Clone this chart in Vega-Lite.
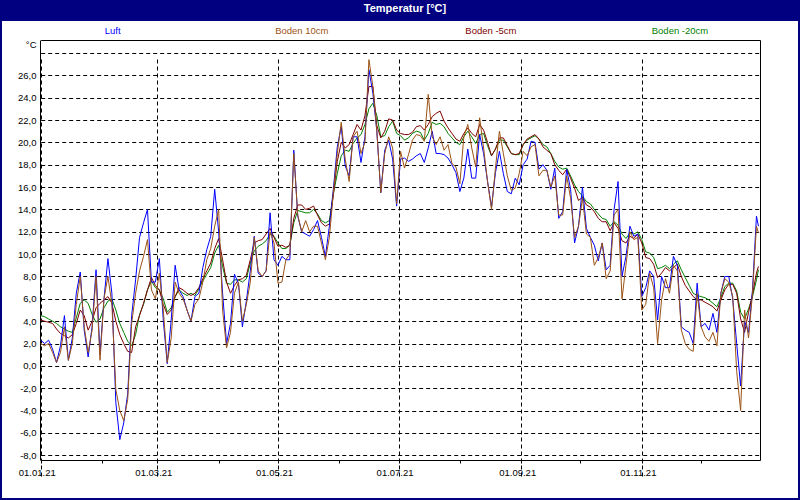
{
  "$schema": "https://vega.github.io/schema/vega-lite/v6.json",
  "background": "#000080",
  "padding": {"left": 0, "top": 0, "right": 0, "bottom": 2},
  "autosize": {"type": "pad"},
  "bounds": "flush",
  "center": true,
  "spacing": 0,
  "config": {
    "view": {"stroke": null},
    "font": "Liberation Sans"
  },
  "vconcat": [
    {
      "width": 800,
      "height": 21,
      "view": {"fill": "#000080", "stroke": null},
      "data": {"values": [{"t": "Temperatur [°C]"}]},
      "mark": {"type": "text", "color": "white", "font": "Liberation Sans", "fontWeight": "bold", "fontSize": 11, "baseline": "middle", "dx": 5, "dy": -2},
      "encoding": {"text": {"field": "t", "type": "nominal"}}
    },
    {
      "width": 796,
      "height": 477,
      "view": {"fill": "white", "stroke": null},
      "resolve": {"scale": {"x": "independent"}, "axis": {"x": "independent", "y": "independent"}},
      "layer": [
        {
          "data": {"values": [
{"d":"2021-01-01","L":2.3,"A":2.0,"B":4.1,"C":4.5},
{"d":"2021-01-03","L":2.0,"A":1.8,"B":4.0,"C":4.4},
{"d":"2021-01-05","L":2.3,"A":2.0,"B":3.9,"C":4.2},
{"d":"2021-01-07","L":1.5,"A":1.2,"B":3.8,"C":4.0},
{"d":"2021-01-09","L":0.3,"A":0.3,"B":3.3,"C":3.8},
{"d":"2021-01-11","L":1.8,"A":1.2,"B":2.9,"C":3.5},
{"d":"2021-01-13","L":4.5,"A":3.5,"B":2.7,"C":3.3},
{"d":"2021-01-15","L":0.5,"A":0.5,"B":2.5,"C":3.1},
{"d":"2021-01-17","L":2.5,"A":2.0,"B":2.8,"C":3.0},
{"d":"2021-01-19","L":6.5,"A":5.5,"B":3.8,"C":4.3},
{"d":"2021-01-21","L":8.4,"A":8.0,"B":5.0,"C":5.6},
{"d":"2021-01-23","L":3.2,"A":3.5,"B":4.5,"C":5.9},
{"d":"2021-01-25","L":0.8,"A":1.2,"B":3.2,"C":5.6},
{"d":"2021-01-27","L":3.5,"A":3.2,"B":4.0,"C":4.6},
{"d":"2021-01-29","L":8.6,"A":8.0,"B":5.2,"C":3.9},
{"d":"2021-01-31","L":1.0,"A":0.5,"B":5.6,"C":4.2},
{"d":"2021-02-02","L":6.0,"A":6.0,"B":5.9,"C":5.2},
{"d":"2021-02-04","L":9.6,"A":8.0,"B":6.2,"C":5.8},
{"d":"2021-02-06","L":6.5,"A":5.5,"B":5.6,"C":6.0},
{"d":"2021-02-08","L":-3.3,"A":-2.1,"B":4.0,"C":5.0},
{"d":"2021-02-10","L":-6.6,"A":-4.0,"B":2.8,"C":3.8},
{"d":"2021-02-12","L":-5.1,"A":-4.9,"B":2.0,"C":3.0},
{"d":"2021-02-14","L":-2.5,"A":-3.0,"B":1.3,"C":2.2},
{"d":"2021-02-16","L":4.5,"A":3.8,"B":1.2,"C":1.8},
{"d":"2021-02-18","L":7.7,"A":6.5,"B":3.5,"C":2.8},
{"d":"2021-02-20","L":11.5,"A":8.5,"B":4.5,"C":4.6},
{"d":"2021-02-22","L":12.8,"A":9.8,"B":5.6,"C":5.5},
{"d":"2021-02-24","L":14.0,"A":11.3,"B":6.8,"C":6.8},
{"d":"2021-02-26","L":7.5,"A":6.8,"B":7.9,"C":7.6},
{"d":"2021-02-28","L":7.5,"A":6.0,"B":7.2,"C":7.0},
{"d":"2021-03-02","L":9.6,"A":8.3,"B":6.8,"C":6.8},
{"d":"2021-03-04","L":4.1,"A":5.0,"B":5.5,"C":6.0},
{"d":"2021-03-06","L":0.2,"A":0.3,"B":4.6,"C":4.8},
{"d":"2021-03-08","L":4.1,"A":2.5,"B":5.0,"C":5.2},
{"d":"2021-03-10","L":9.0,"A":7.5,"B":6.2,"C":6.2},
{"d":"2021-03-12","L":6.8,"A":6.5,"B":7.0,"C":6.8},
{"d":"2021-03-14","L":6.2,"A":6.0,"B":6.8,"C":6.5},
{"d":"2021-03-16","L":5.0,"A":5.0,"B":6.5,"C":6.3},
{"d":"2021-03-18","L":4.0,"A":4.0,"B":6.3,"C":6.5},
{"d":"2021-03-20","L":6.2,"A":5.5,"B":6.5,"C":6.3},
{"d":"2021-03-22","L":6.5,"A":6.0,"B":7.0,"C":6.9},
{"d":"2021-03-24","L":8.8,"A":7.5,"B":7.8,"C":7.6},
{"d":"2021-03-26","L":10.4,"A":9.5,"B":8.5,"C":8.2},
{"d":"2021-03-28","L":11.6,"A":10.5,"B":9.2,"C":8.8},
{"d":"2021-03-30","L":15.8,"A":12.5,"B":10.5,"C":10.1},
{"d":"2021-04-01","L":12.0,"A":14.0,"B":11.4,"C":10.8},
{"d":"2021-04-03","L":6.5,"A":5.0,"B":9.5,"C":8.9},
{"d":"2021-04-05","L":2.0,"A":1.6,"B":7.5,"C":7.4},
{"d":"2021-04-07","L":3.8,"A":3.0,"B":6.5,"C":7.3},
{"d":"2021-04-09","L":8.2,"A":6.5,"B":7.2,"C":7.7},
{"d":"2021-04-11","L":7.4,"A":7.5,"B":7.7,"C":7.7},
{"d":"2021-04-13","L":3.5,"A":4.0,"B":7.8,"C":7.5},
{"d":"2021-04-15","L":5.8,"A":5.5,"B":8.1,"C":7.8},
{"d":"2021-04-17","L":8.5,"A":7.5,"B":9.5,"C":9.2},
{"d":"2021-04-19","L":11.6,"A":11.5,"B":11.0,"C":10.3},
{"d":"2021-04-21","L":8.3,"A":8.5,"B":11.2,"C":10.7},
{"d":"2021-04-23","L":8.0,"A":8.0,"B":11.3,"C":10.9},
{"d":"2021-04-25","L":8.5,"A":8.5,"B":11.8,"C":11.2},
{"d":"2021-04-27","L":13.7,"A":12.0,"B":12.3,"C":11.8},
{"d":"2021-04-29","L":9.5,"A":11.0,"B":11.5,"C":11.6},
{"d":"2021-05-01","L":9.0,"A":7.4,"B":10.7,"C":11.0},
{"d":"2021-05-03","L":9.8,"A":7.5,"B":10.8,"C":10.5},
{"d":"2021-05-05","L":9.5,"A":9.5,"B":10.6,"C":10.5},
{"d":"2021-05-07","L":9.5,"A":10.0,"B":10.8,"C":10.8},
{"d":"2021-05-09","L":19.3,"A":19.0,"B":13.2,"C":12.8},
{"d":"2021-05-11","L":13.4,"A":13.5,"B":14.4,"C":13.9},
{"d":"2021-05-13","L":12.0,"A":12.0,"B":14.4,"C":13.8},
{"d":"2021-05-15","L":11.8,"A":13.0,"B":14.0,"C":13.7},
{"d":"2021-05-17","L":11.6,"A":12.0,"B":14.1,"C":13.7},
{"d":"2021-05-19","L":12.2,"A":12.5,"B":14.3,"C":14.0},
{"d":"2021-05-21","L":13.0,"A":12.5,"B":13.5,"C":13.6},
{"d":"2021-05-23","L":11.5,"A":11.0,"B":12.8,"C":13.0},
{"d":"2021-05-25","L":9.8,"A":9.5,"B":12.5,"C":12.8},
{"d":"2021-05-27","L":12.5,"A":11.5,"B":12.7,"C":13.0},
{"d":"2021-05-29","L":15.8,"A":15.5,"B":15.3,"C":15.4},
{"d":"2021-05-31","L":19.6,"A":19.0,"B":18.3,"C":17.2},
{"d":"2021-06-02","L":21.4,"A":21.8,"B":20.0,"C":18.8},
{"d":"2021-06-04","L":17.9,"A":18.5,"B":19.5,"C":19.3},
{"d":"2021-06-06","L":17.0,"A":16.5,"B":19.8,"C":19.2},
{"d":"2021-06-08","L":20.5,"A":20.5,"B":20.7,"C":19.9},
{"d":"2021-06-10","L":20.5,"A":21.0,"B":21.6,"C":20.4},
{"d":"2021-06-12","L":18.2,"A":19.0,"B":21.1,"C":20.7},
{"d":"2021-06-14","L":20.5,"A":20.0,"B":22.4,"C":21.6},
{"d":"2021-06-16","L":26.5,"A":27.4,"B":25.0,"C":23.0},
{"d":"2021-06-18","L":24.4,"A":25.0,"B":25.0,"C":23.5},
{"d":"2021-06-20","L":21.0,"A":21.0,"B":21.5,"C":22.4},
{"d":"2021-06-22","L":15.5,"A":15.5,"B":20.4,"C":20.5},
{"d":"2021-06-24","L":19.3,"A":19.0,"B":21.0,"C":20.6},
{"d":"2021-06-26","L":20.2,"A":20.5,"B":22.1,"C":21.4},
{"d":"2021-06-28","L":18.5,"A":19.5,"B":22.0,"C":21.9},
{"d":"2021-06-30","L":14.3,"A":14.5,"B":21.1,"C":20.8},
{"d":"2021-07-02","L":18.5,"A":19.2,"B":20.8,"C":20.6},
{"d":"2021-07-04","L":18.6,"A":17.7,"B":20.7,"C":20.2},
{"d":"2021-07-06","L":18.3,"A":18.9,"B":20.7,"C":20.4},
{"d":"2021-07-08","L":18.5,"A":20.2,"B":20.9,"C":20.8},
{"d":"2021-07-10","L":18.8,"A":20.7,"B":21.4,"C":21.0},
{"d":"2021-07-12","L":19.0,"A":20.6,"B":21.5,"C":20.9},
{"d":"2021-07-14","L":18.2,"A":20.1,"B":21.1,"C":20.2},
{"d":"2021-07-16","L":19.5,"A":24.3,"B":21.6,"C":20.8},
{"d":"2021-07-18","L":21.0,"A":20.5,"B":22.3,"C":21.8},
{"d":"2021-07-20","L":19.0,"A":19.8,"B":22.6,"C":21.6},
{"d":"2021-07-22","L":19.0,"A":20.5,"B":22.8,"C":21.7},
{"d":"2021-07-24","L":18.9,"A":19.3,"B":21.9,"C":21.4},
{"d":"2021-07-26","L":18.6,"A":19.8,"B":21.3,"C":20.8},
{"d":"2021-07-28","L":18.0,"A":18.1,"B":20.8,"C":20.4},
{"d":"2021-07-30","L":17.3,"A":17.8,"B":20.3,"C":20.0},
{"d":"2021-08-01","L":15.6,"A":16.3,"B":20.1,"C":19.8},
{"d":"2021-08-03","L":16.8,"A":20.5,"B":20.8,"C":20.5},
{"d":"2021-08-05","L":19.4,"A":21.6,"B":21.3,"C":21.0},
{"d":"2021-08-07","L":16.8,"A":19.5,"B":20.8,"C":20.5},
{"d":"2021-08-09","L":16.8,"A":17.8,"B":20.5,"C":19.9},
{"d":"2021-08-11","L":20.7,"A":22.2,"B":21.6,"C":20.7},
{"d":"2021-08-13","L":19.0,"A":19.5,"B":21.1,"C":20.8},
{"d":"2021-08-15","L":16.5,"A":16.5,"B":20.0,"C":19.7},
{"d":"2021-08-17","L":14.2,"A":14.0,"B":18.8,"C":18.8},
{"d":"2021-08-19","L":17.3,"A":17.7,"B":19.4,"C":19.4},
{"d":"2021-08-21","L":19.2,"A":21.0,"B":20.4,"C":20.2},
{"d":"2021-08-23","L":17.2,"A":19.0,"B":20.4,"C":20.2},
{"d":"2021-08-25","L":15.6,"A":17.0,"B":19.7,"C":19.6},
{"d":"2021-08-27","L":15.4,"A":15.7,"B":19.0,"C":19.0},
{"d":"2021-08-29","L":16.8,"A":15.9,"B":18.9,"C":18.9},
{"d":"2021-08-31","L":16.2,"A":17.2,"B":19.0,"C":18.9},
{"d":"2021-09-02","L":18.0,"A":19.2,"B":19.8,"C":19.8},
{"d":"2021-09-04","L":18.5,"A":18.8,"B":20.3,"C":20.2},
{"d":"2021-09-06","L":20.1,"A":19.6,"B":20.5,"C":20.4},
{"d":"2021-09-08","L":20.0,"A":19.8,"B":20.7,"C":20.6},
{"d":"2021-09-10","L":17.6,"A":17.0,"B":20.3,"C":20.3},
{"d":"2021-09-12","L":18.0,"A":17.5,"B":19.6,"C":19.8},
{"d":"2021-09-14","L":17.5,"A":17.5,"B":19.3,"C":19.6},
{"d":"2021-09-16","L":15.8,"A":16.0,"B":19.0,"C":19.0},
{"d":"2021-09-18","L":17.7,"A":17.0,"B":18.0,"C":18.3},
{"d":"2021-09-20","L":13.2,"A":13.5,"B":17.5,"C":17.8},
{"d":"2021-09-22","L":13.8,"A":13.5,"B":17.1,"C":17.6},
{"d":"2021-09-24","L":17.6,"A":17.0,"B":17.6,"C":17.7},
{"d":"2021-09-26","L":15.8,"A":15.0,"B":16.8,"C":17.0},
{"d":"2021-09-28","L":11.0,"A":11.5,"B":15.9,"C":16.2},
{"d":"2021-09-30","L":12.5,"A":12.5,"B":14.8,"C":15.6},
{"d":"2021-10-02","L":16.0,"A":15.0,"B":15.1,"C":15.2},
{"d":"2021-10-04","L":12.3,"A":11.8,"B":14.4,"C":14.7},
{"d":"2021-10-06","L":11.5,"A":11.5,"B":14.2,"C":14.5},
{"d":"2021-10-08","L":10.8,"A":9.0,"B":13.8,"C":14.0},
{"d":"2021-10-10","L":9.4,"A":9.7,"B":13.2,"C":13.6},
{"d":"2021-10-12","L":11.0,"A":11.0,"B":12.9,"C":13.2},
{"d":"2021-10-14","L":8.6,"A":7.8,"B":12.9,"C":13.1},
{"d":"2021-10-16","L":9.0,"A":8.5,"B":12.1,"C":12.5},
{"d":"2021-10-18","L":14.0,"A":13.5,"B":12.8,"C":12.9},
{"d":"2021-10-20","L":16.5,"A":14.0,"B":12.3,"C":12.6},
{"d":"2021-10-22","L":8.0,"A":6.0,"B":11.2,"C":11.8},
{"d":"2021-10-24","L":9.8,"A":9.0,"B":11.0,"C":11.4},
{"d":"2021-10-26","L":12.5,"A":12.0,"B":11.6,"C":11.9},
{"d":"2021-10-28","L":11.6,"A":11.3,"B":11.4,"C":11.8},
{"d":"2021-10-30","L":11.8,"A":11.5,"B":11.8,"C":12.0},
{"d":"2021-11-01","L":6.2,"A":5.0,"B":11.0,"C":11.3},
{"d":"2021-11-03","L":7.0,"A":5.5,"B":9.7,"C":10.2},
{"d":"2021-11-05","L":8.5,"A":8.3,"B":9.6,"C":10.1},
{"d":"2021-11-07","L":8.0,"A":7.0,"B":9.1,"C":9.7},
{"d":"2021-11-09","L":4.1,"A":2.0,"B":7.9,"C":8.7},
{"d":"2021-11-11","L":8.0,"A":5.9,"B":8.3,"C":8.8},
{"d":"2021-11-13","L":7.0,"A":7.8,"B":8.8,"C":9.0},
{"d":"2021-11-15","L":7.0,"A":6.5,"B":8.5,"C":8.7},
{"d":"2021-11-17","L":9.8,"A":9.0,"B":8.8,"C":9.1},
{"d":"2021-11-19","L":9.0,"A":8.5,"B":9.1,"C":9.4},
{"d":"2021-11-21","L":3.5,"A":3.2,"B":8.0,"C":8.6},
{"d":"2021-11-23","L":3.2,"A":2.0,"B":7.2,"C":7.9},
{"d":"2021-11-25","L":3.0,"A":1.5,"B":6.7,"C":7.2},
{"d":"2021-11-27","L":2.0,"A":1.3,"B":6.2,"C":6.5},
{"d":"2021-11-29","L":7.4,"A":6.5,"B":5.9,"C":6.3},
{"d":"2021-12-01","L":3.5,"A":3.5,"B":5.9,"C":6.2},
{"d":"2021-12-03","L":3.8,"A":2.6,"B":5.7,"C":6.1},
{"d":"2021-12-05","L":3.2,"A":2.2,"B":5.5,"C":5.9},
{"d":"2021-12-07","L":4.7,"A":3.0,"B":5.3,"C":5.6},
{"d":"2021-12-09","L":3.0,"A":1.8,"B":4.9,"C":5.3},
{"d":"2021-12-11","L":6.5,"A":6.5,"B":5.9,"C":6.1},
{"d":"2021-12-13","L":8.0,"A":7.8,"B":6.8,"C":7.1},
{"d":"2021-12-15","L":8.0,"A":7.5,"B":7.3,"C":7.4},
{"d":"2021-12-17","L":6.0,"A":6.2,"B":7.3,"C":7.4},
{"d":"2021-12-19","L":2.0,"A":-0.5,"B":6.5,"C":6.7},
{"d":"2021-12-21","L":-1.8,"A":-4.0,"B":4.2,"C":4.8},
{"d":"2021-12-23","L":4.0,"A":5.0,"B":3.0,"C":4.2},
{"d":"2021-12-25","L":3.0,"A":2.5,"B":4.8,"C":5.1},
{"d":"2021-12-27","L":6.8,"A":6.5,"B":6.4,"C":6.2},
{"d":"2021-12-29","L":13.4,"A":12.5,"B":8.3,"C":7.7},
{"d":"2021-12-30","L":12.5,"A":11.9,"B":8.9,"C":8.6}
          ]},
          "transform": [{"fold": ["C", "B", "L", "A"], "as": ["s", "v"]}],
          "mark": {"type": "line", "strokeWidth": 1},
          "encoding": {
            "x": {
              "field": "d", "type": "temporal",
              "scale": {"type": "utc", "nice": false, "range": [38.7, 758],
                "domain": [{"year": 2021, "month": 1, "date": 1, "utc": true}, {"year": 2021, "month": 12, "date": 30, "hours": 19, "utc": true}]},
              "axis": {
                "orient": "bottom", "offset": -38, "title": null,
                "values": [
                  {"year": 2021, "month": 1, "date": 1, "utc": true},
                  {"year": 2021, "month": 2, "date": 1, "utc": true},
                  {"year": 2021, "month": 3, "date": 1, "utc": true},
                  {"year": 2021, "month": 4, "date": 1, "utc": true},
                  {"year": 2021, "month": 5, "date": 1, "utc": true},
                  {"year": 2021, "month": 6, "date": 1, "utc": true},
                  {"year": 2021, "month": 7, "date": 1, "utc": true},
                  {"year": 2021, "month": 8, "date": 1, "utc": true},
                  {"year": 2021, "month": 9, "date": 1, "utc": true},
                  {"year": 2021, "month": 10, "date": 1, "utc": true},
                  {"year": 2021, "month": 11, "date": 1, "utc": true},
                  {"year": 2021, "month": 12, "date": 1, "utc": true}
                ],
                "labelExpr": "utcmonth(datum.value) % 2 == 0 ? utcFormat(datum.value, '%d.%m.%y') : ''",
                "labelFlush": false, "labelOverlap": false, "labelOffset": -4,
                "labelFontSize": 9.5, "labelColor": "black", "labelPadding": 4,
                "domain": true, "domainColor": "black", "domainWidth": 1,
                "ticks": true, "tickSize": 3, "tickColor": "black", "tickWidth": 1,
                "grid": true, "gridColor": "black", "gridDash": [4, 3], "gridWidth": 1,
                "gridOpacity": {"condition": {"test": "utcmonth(datum.value) % 2 == 0", "value": 1}, "value": 0}
              }
            },
            "y": {
              "field": "v", "type": "quantitative",
              "scale": {"domain": [-8.42, 29.16], "range": [439, 19], "nice": false, "zero": false},
              "axis": {
                "orient": "left", "offset": -38,
                "values": [-8, -6, -4, -2, 0, 2, 4, 6, 8, 10, 12, 14, 16, 18, 20, 22, 24, 26, 28],
                "labelExpr": "datum.value >= 28 ? '' : replace(replace(format(datum.value, '.1f'), '.', ','), '\u2212', '-')",
                "ticks": false, "labelPadding": 4, "labelFontSize": 9.5, "labelColor": "black",
                "labelBaseline": "middle", "labelFlush": false, "labelOverlap": false,
                "domain": true, "domainColor": "black", "domainWidth": 1,
                "grid": true, "gridColor": "black", "gridDash": [4, 3], "gridWidth": 1, "gridOpacity": 1,
                "title": "°C", "titleAngle": 0, "titleX": -4, "titleY": 23, "titleAlign": "right",
                "titleBaseline": "middle", "titleFontSize": 9.5, "titleFontWeight": "normal", "titleColor": "black"
              }
            },
            "color": {
              "field": "s", "type": "nominal",
              "scale": {"domain": ["L", "A", "B", "C"], "range": ["#0000FF", "#9C5214", "#800000", "#008000"]},
              "legend": null
            }
          }
        },
        {
          "data": {"values": [{"d": "2021-06-01", "v": 0}]},
          "mark": {"type": "point", "opacity": 0},
          "encoding": {
            "x": {
              "field": "d", "type": "temporal",
              "scale": {"type": "utc", "nice": false, "range": [38.7, 758],
                "domain": [{"year": 2021, "month": 1, "date": 1, "utc": true}, {"year": 2021, "month": 12, "date": 30, "hours": 19, "utc": true}]},
              "axis": {"orient": "top", "offset": -19, "labels": false, "ticks": false, "grid": false, "domain": true, "domainColor": "black", "domainWidth": 1, "title": null}
            },
            "y": {
              "field": "v", "type": "quantitative",
              "scale": {"domain": [-8.42, 29.16], "range": [439, 19], "nice": false, "zero": false},
              "axis": {"orient": "right", "offset": -38, "labels": false, "ticks": false, "grid": false, "domain": true, "domainColor": "black", "domainWidth": 1, "title": null}
            }
          }
        },
        {
          "data": {"values": [
            {"s": "L", "n": "Luft"},
            {"s": "A", "n": "Boden 10cm"},
            {"s": "B", "n": "Boden -5cm"},
            {"s": "C", "n": "Boden -20cm"}
          ]},
          "mark": {"type": "text", "fontSize": 9.5, "baseline": "middle", "align": "center"},
          "encoding": {
            "x": {"field": "n", "type": "nominal", "sort": null, "scale": {"type": "point", "range": [110.7, 678], "padding": 0}, "axis": null},
            "y": {"datum": 30, "type": "quantitative", "scale": {"domain": [-8.42, 29.16], "range": [439, 19], "nice": false, "zero": false}, "axis": null},
            "text": {"field": "n", "type": "nominal"},
            "color": {"field": "s", "type": "nominal", "legend": null}
          }
        }
      ]
    }
  ]
}
